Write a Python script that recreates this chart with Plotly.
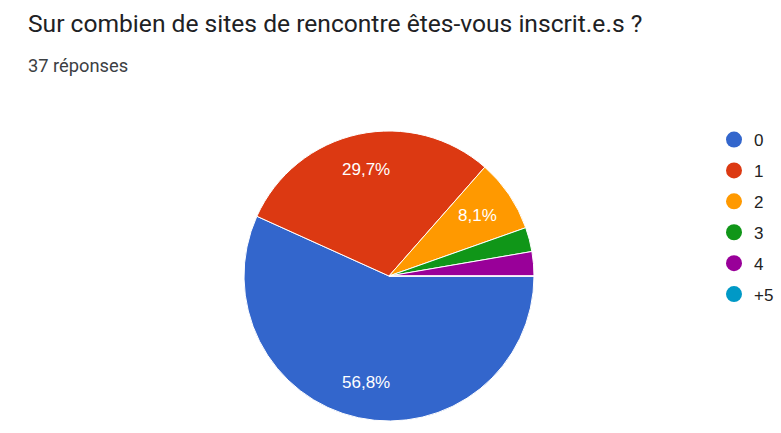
import math
import plotly.graph_objects as go

categories = ["0", "1", "2", "3", "4", "+5"]
counts = [21, 11, 3, 1, 1, 0]
colors = ["#3366cc", "#dc3912", "#ff9900", "#109618", "#990099", "#0099c6"]
title_text = "Sur combien de sites de rencontre êtes-vous inscrit.e.s ?"
subtitle_text = "37 réponses"

W, H = 781, 433
CX, CY, R = 389, 276, 145  # pie centre / radius in pixels
ROT = 90  # first slice starts at 3 o'clock, clockwise

total = sum(counts)
pct = [v / total * 100 for v in counts]

fig = go.Figure()
fig.add_trace(go.Pie(
    labels=categories, values=counts, textinfo="none",
    marker=dict(colors=colors, line=dict(color="white", width=1)),
    sort=False, direction="clockwise", rotation=ROT, showlegend=False,
    domain=dict(x=[(CX - R) / W, (CX + R) / W], y=[1 - (CY + R) / H, 1 - (CY - R) / H]),
    hoverinfo="label+percent",
))
for i, (c, col) in enumerate(zip(categories, colors)):
    fig.add_trace(go.Scatter(
        x=[None], y=[None], mode="markers", name=c, legendgroup=f"g{i}",
        marker=dict(symbol="circle", size=17, color=col),
    ))

annotations = [
    dict(text=title_text, x=26 / W, y=1 - 24 / H, xref="paper", yref="paper",
         xanchor="left", yanchor="middle", showarrow=False,
         font=dict(family="Roboto", size=24.6, color="#202124")),
    dict(text=subtitle_text, x=26 / W, y=1 - 66 / H, xref="paper", yref="paper",
         xanchor="left", yanchor="middle", showarrow=False,
         font=dict(family="Roboto", size=18.3, color="#3c4043")),
]
# slice percentage labels (only slices >= 5%), placed along the mid-angle
cum = 0.0
for v, p in zip(counts, pct):
    mid = ROT + (cum + v / 2) / total * 360
    cum += v
    if p < 5:
        continue
    a = math.radians(mid)
    px = CX + 0.74 * R * math.sin(a)
    py = CY - 0.75 * R * math.cos(a)
    annotations.append(dict(
        text=f"{p:.1f}".replace(".", ",") + "%", x=px / W, y=1 - py / H,
        xref="paper", yref="paper", xanchor="center", yanchor="middle",
        showarrow=False, font=dict(family="Liberation Sans, Arial", size=17, color="white"),
    ))

fig.update_layout(
    width=W, height=H, margin=dict(l=0, r=0, t=0, b=0),
    paper_bgcolor="white", plot_bgcolor="white",
    xaxis=dict(visible=False), yaxis=dict(visible=False),
    legend=dict(x=714 / W, y=1 - 122 / H, xanchor="left", yanchor="top",
                font=dict(family="Liberation Sans, Arial", size=17, color="#222222"),
                tracegroupgap=5.8, bgcolor="rgba(0,0,0,0)"),
    annotations=annotations,
)
fig.write_html("out.html")
